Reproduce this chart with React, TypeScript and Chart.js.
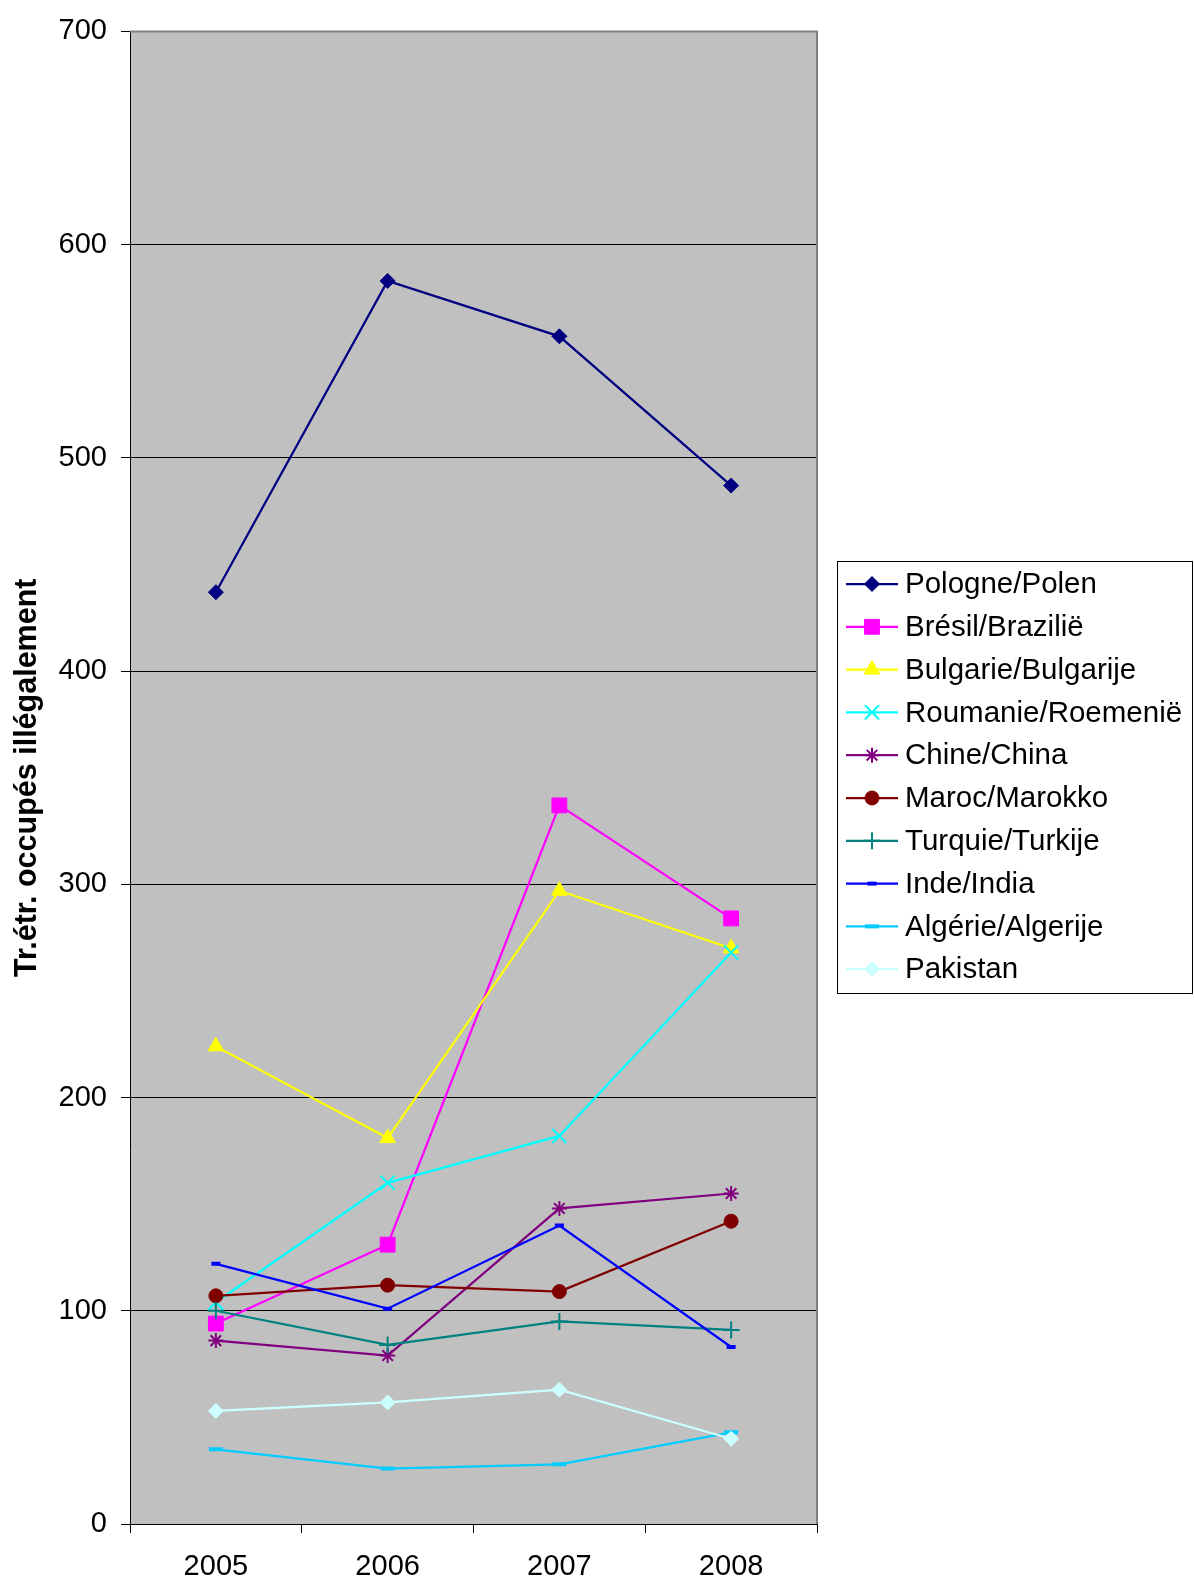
import React, { useEffect, useRef } from 'react';
import { Chart, registerables } from 'chart.js';
import { drawPoint } from 'chart.js/helpers';

Chart.register(...registerables);

const years = ['2005', '2006', '2007', '2008'];

const pologne = [437, 583, 557, 487];
const bresil = [94, 131, 337, 284];
const bulgarie = [224, 181, 297, 270];
const roumanie = [104, 160, 182, 268];
const chine = [86, 79, 148, 155];
const maroc = [107, 112, 109, 142];
const turquie = [100, 84, 95, 91];
const inde = [122, 101, 140, 83];
const algerie = [35, 26, 28, 43];
const pakistan = [53, 57, 63, 40];

const seriesLabels = [
  'Pologne/Polen',
  'Brésil/Brazilië',
  'Bulgarie/Bulgarije',
  'Roumanie/Roemenië',
  'Chine/China',
  'Maroc/Marokko',
  'Turquie/Turkije',
  'Inde/India',
  'Algérie/Algerije',
  'Pakistan',
];
const seriesData = [pologne, bresil, bulgarie, roumanie, chine, maroc, turquie, inde, algerie, pakistan];
const seriesColors = ['#000080', '#FF00FF', '#FFFF00', '#00FFFF', '#800080', '#800000', '#008080', '#0000FF', '#00CCFF', '#CCFFFF'];
const seriesStyles = ['rectRot', 'rect', 'triangle', 'crossRot', 'star', 'circle', 'cross', 'line', 'line', 'rectRot'];
const seriesRadius = [7.5, 10.5, 9, 10, 7.5, 7, 8.5, 4.5, 7, 7.5];
const seriesPointBorder = [1, 1, 1, 2, 2, 1, 2, 4, 4, 1];

const yTitle = 'Tr.étr. occupés illégalement';
const FONT = '"Liberation Sans", Arial, sans-serif';

const plotBgPlugin = {
  id: 'plotBg',
  beforeDraw(chart: any) {
    const { ctx, chartArea } = chart;
    ctx.save();
    ctx.fillStyle = '#C0C0C0';
    ctx.fillRect(chartArea.left, chartArea.top, chartArea.right - chartArea.left, chartArea.bottom - chartArea.top);
    ctx.restore();
  },
  beforeDatasetsDraw(chart: any) {
    const { ctx, chartArea } = chart;
    ctx.save();
    ctx.strokeStyle = '#808080';
    ctx.lineWidth = 2;
    ctx.beginPath();
    ctx.moveTo(chartArea.left, chartArea.top);
    ctx.lineTo(chartArea.right, chartArea.top);
    ctx.lineTo(chartArea.right, chartArea.bottom);
    ctx.stroke();
    ctx.restore();
  },
};

const legendPlugin = {
  id: 'boxLegend',
  afterDraw(chart: any) {
    const ctx = chart.ctx;
    const x0 = 837, y0 = 561, x1 = 1192, y1 = 993;
    ctx.save();
    ctx.strokeStyle = '#000';
    ctx.lineWidth = 1;
    ctx.strokeRect(x0 + 0.5, y0 + 0.5, x1 - x0, y1 - y0);
    chart.data.datasets.forEach((ds: any, i: number) => {
      const cy = 584 + i * 42.8;
      ctx.strokeStyle = ds.borderColor;
      ctx.lineWidth = 2.25;
      ctx.beginPath();
      ctx.moveTo(846, cy);
      ctx.lineTo(898, cy);
      ctx.stroke();
      ctx.fillStyle = ds.pointBackgroundColor;
      ctx.strokeStyle = ds.pointBorderColor;
      ctx.lineWidth = ds.pointBorderWidth;
      drawPoint(ctx, { pointStyle: ds.pointStyle, radius: ds.pointRadius, borderWidth: ds.pointBorderWidth, rotation: 0 } as any, 872, cy);
      ctx.fillStyle = '#000';
      ctx.font = `29.5px ${FONT}`;
      ctx.textBaseline = 'middle';
      ctx.textAlign = 'left';
      ctx.fillText(ds.label, 905, cy + 1);
    });
    ctx.restore();
  },
};

export default function App() {
  const ref = useRef<HTMLCanvasElement>(null);
  useEffect(() => {
    document.body.style.margin = '0';
    const n = seriesLabels.length;
    const datasets = seriesLabels.map((label, i) => ({
      label,
      data: seriesData[i],
      borderColor: seriesColors[i],
      backgroundColor: seriesColors[i],
      pointBackgroundColor: seriesColors[i],
      pointBorderColor: seriesColors[i],
      pointStyle: seriesStyles[i],
      pointRadius: seriesRadius[i],
      pointBorderWidth: seriesPointBorder[i],
      borderWidth: 2.25,
      fill: false,
      tension: 0,
      order: n - i,
    }));
    const chart = new Chart(ref.current as HTMLCanvasElement, {
      type: 'line',
      data: { labels: years, datasets },
      options: {
        animation: false,
        responsive: false,
        layout: { padding: { left: 0, top: 28, right: 377, bottom: 0 } },
        plugins: { legend: { display: false }, tooltip: { enabled: false } },
        scales: {
          x: {
            type: 'category',
            offset: true,
            grid: { offset: true, drawOnChartArea: false, drawTicks: true, tickLength: 9, color: '#000' },
            border: { display: true, color: '#000', width: 1 },
            ticks: { color: '#000', font: { family: FONT, size: 29 }, padding: 17, maxRotation: 0 },
            afterFit: (scale: any) => { scale.height = 57; },
          },
          y: {
            min: 0,
            max: 700,
            ticks: { stepSize: 100, color: '#000', font: { family: FONT, size: 29 }, padding: 14 },
            grid: { color: '#000', lineWidth: 1, drawTicks: true, tickLength: 9 },
            border: { display: true, color: '#000', width: 1 },
            title: { display: true, text: yTitle, color: '#000', font: { family: FONT, size: 30.5, weight: 'bold' }, padding: { top: 9, bottom: 0 } },
            afterFit: (scale: any) => { scale.width = 130; },
          },
        },
      } as any,
      plugins: [plotBgPlugin, legendPlugin],
    });
    return () => chart.destroy();
  }, []);
  return (
    <div style={{ width: 1194, height: 1581 }}>
      <canvas ref={ref} width={1194} height={1581} style={{ display: 'block' }} />
    </div>
  );
}
